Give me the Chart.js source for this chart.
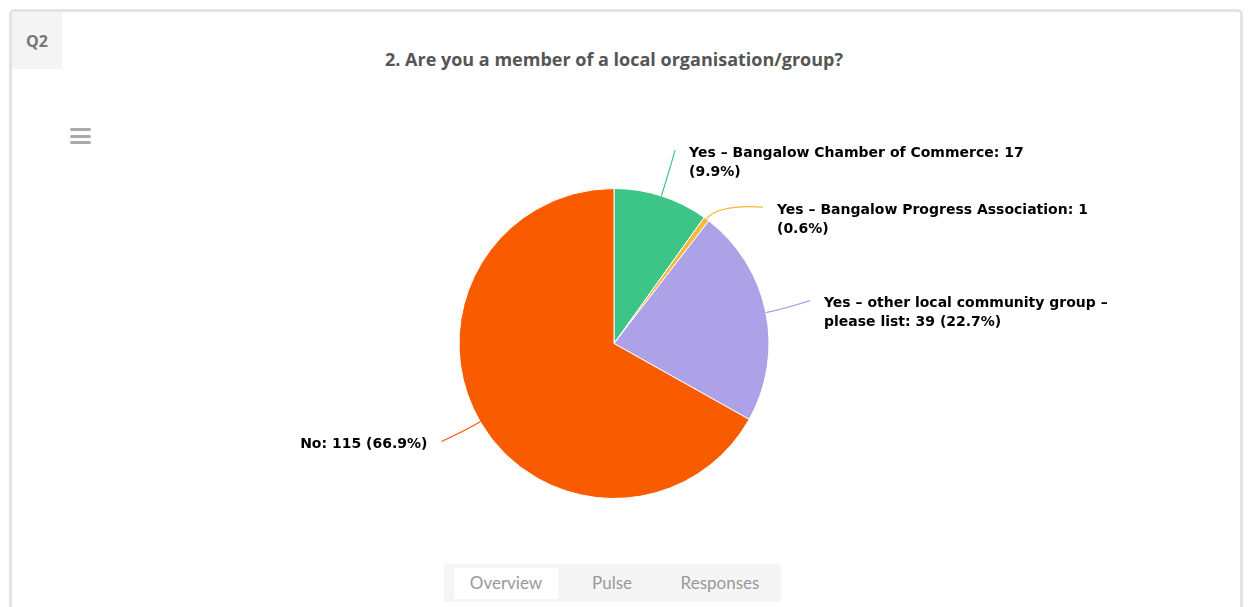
<!DOCTYPE html>
<html>
<head>
<meta charset="utf-8">
<script src="https://cdn.jsdelivr.net/npm/chart.js@4"></script>
<style>
  html, body { margin: 0; padding: 0; background: #fff; width: 1250px; height: 607px; overflow: hidden; }
  .card { position: absolute; left: 9px; top: 9px; width: 1234px; height: 640px; box-sizing: border-box;
    border: 3px solid #e4e4e4; border-radius: 5px; }
  .qnum { position: absolute; left: 12px; top: 12px; width: 50px; height: 57px; background: #f4f4f4;
    font: bold 16px 'Open Sans', sans-serif; color: #777; text-align: center; line-height: 58px; }
  .menu { position: absolute; left: 70px; top: 128px; width: 21px; }
  .menu div { height: 3px; background: #aaa; border-radius: 2px; margin-bottom: 3.7px; }
  .title { position: absolute; left: 0; width: 1228px; top: 47px; text-align: center;
    font: bold 18px 'Open Sans', sans-serif; color: #555; }
  .tabs { position: absolute; left: 444px; top: 564px; width: 337px; height: 38px; background: #f5f5f5; border-radius: 3px; }
  .tab { position: absolute; top: 4px; height: 31px; text-align: center;
    font: 17px Lato, sans-serif; color: #999; }
  .tab span { position: absolute; left: 0; right: 0; top: 5px; line-height: 20px; }
  .tab.on { background: #fff; }
  canvas { position: absolute; left: 0; top: 0; }
</style>
</head>
<body>
<div class="card"></div>
<div class="qnum">Q2</div>
<div class="menu"><div></div><div></div><div></div></div>
<div class="title">2. Are you a member of a local organisation/group?</div>
<div class="tabs">
  <div class="tab on" style="left:10px;width:104px"><span>Overview</span></div>
  <div class="tab" style="left:126px;width:84px"><span>Pulse</span></div>
  <div class="tab" style="left:222px;width:108px"><span>Responses</span></div>
</div>
<canvas id="pie" width="1250" height="607"></canvas>
<script>
// answers and counts
const answers = [
  "Yes \u2013 Bangalow Chamber of Commerce",
  "Yes \u2013 Bangalow Progress Association",
  "Yes \u2013 other local community group \u2013 please list",
  "No"
];
const counts = [17, 1, 39, 115];
const colours = ["#3dc487", "#f5b83d", "#ada2e7", "#f95c00"];

const total = counts.reduce((a, b) => a + b, 0);

// wrap a label into lines no wider than maxW
function wrapText(ctx, text, maxW) {
  const words = text.split(" ");
  const lines = [];
  let cur = "";
  words.forEach(w => {
    const test = cur ? cur + " " + w : w;
    if (cur && ctx.measureText(test).width > maxW) {
      lines.push(cur);
      cur = w;
    } else cur = test;
  });
  if (cur) lines.push(cur);
  return lines;
}

// highcharts-ish outside labels with connectors
const pieLabels = {
  id: "pieLabels",
  afterDraw(chart) {
    const ctx = chart.ctx;
    const meta = chart.getDatasetMeta(0);
    const lineH = 19;
    const dist = 45;
    ctx.save();
    ctx.font = "bold 14px 'DejaVu Sans'";
    const items = meta.data.map((arc, i) => {
      const mid = (arc.startAngle + arc.endAngle) / 2;
      const r = arc.outerRadius;
      const side = Math.cos(mid) >= 0 ? 1 : -1;
      const pct = (counts[i] / total * 100).toFixed(1);
      const text = answers[i] + ": " + counts[i] + " (" + pct + "%)";
      return {
        i, arc, mid, r, side,
        ex: arc.x + Math.cos(mid) * r,
        ey: arc.y + Math.sin(mid) * r,
        y: arc.y + Math.sin(mid) * (r + dist),
        lines: wrapText(ctx, text, 336)
      };
    });
    // push overlapping labels down on each side
    [1, -1].forEach(s => {
      const list = items.filter(it => it.side === s).sort((a, b) => a.y - b.y);
      for (let k = 1; k < list.length; k++) {
        const prev = list[k - 1];
        const minY = prev.y + (prev.lines.length - 1) * lineH + 38;
        if (list[k].y < minY) list[k].y = minY;
      }
    });
    items.forEach(it => {
      const R = it.r + dist;
      const dy = it.y - it.arc.y;
      const dx = Math.sqrt(Math.max(R * R - dy * dy, 0));
      const ax = it.arc.x + it.side * dx;
      const ay = it.y - 3;
      const cx = it.arc.x + Math.cos(it.mid) * (it.r + 18);
      const cy = it.arc.y + Math.sin(it.mid) * (it.r + 18);
      ctx.strokeStyle = colours[it.i];
      ctx.lineWidth = 1.2;
      ctx.beginPath();
      ctx.moveTo(it.ex, it.ey);
      ctx.quadraticCurveTo(cx, cy, ax, ay);
      ctx.stroke();
      ctx.fillStyle = "#000";
      ctx.textBaseline = "middle";
      ctx.textAlign = it.side > 0 ? "left" : "right";
      const tx = ax + it.side * 14;
      it.lines.forEach((ln, k) => ctx.fillText(ln, tx, it.y + k * lineH));
    });
    ctx.restore();
  }
};

new Chart(document.getElementById("pie"), {
  type: "pie",
  data: {
    labels: answers,
    datasets: [{
      data: counts,
      backgroundColor: colours,
      borderColor: "#fff",
      borderWidth: 1
    }]
  },
  options: {
    responsive: false,
    animation: false,
    layout: { padding: { left: 300, right: 322, top: 188, bottom: 108 } },
    plugins: { legend: { display: false }, tooltip: { enabled: false } }
  },
  plugins: [pieLabels]
});
</script>
</body>
</html>
